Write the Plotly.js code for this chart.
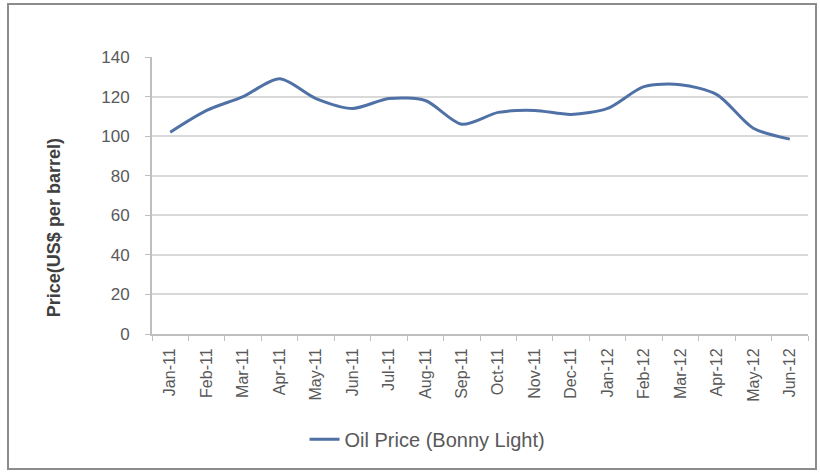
<!DOCTYPE html>
<html>
<head>
<meta charset="utf-8">
<script src="https://cdn.plot.ly/plotly-3.0.1.min.js"></script>
<style>
html,body{margin:0;padding:0;background:#fff;}
#wrap{position:relative;width:820px;height:475px;}
#chart{width:820px;height:475px;}
#frame{position:absolute;left:7px;top:3px;width:806px;height:463px;border:2px solid #8c8c8c;pointer-events:none;}
</style>
</head>
<body>
<div id="wrap">
<div id="chart"></div>
<div id="frame"></div>
</div>
<script>
const months = ["Jan-11","Feb-11","Mar-11","Apr-11","May-11","Jun-11","Jul-11","Aug-11","Sep-11","Oct-11","Nov-11","Dec-11","Jan-12","Feb-12","Mar-12","Apr-12","May-12","Jun-12"];
const oilPrice = [102, 113, 120, 129, 119, 114, 119, 118, 106, 112, 113, 111, 114, 125, 126, 121, 104, 98.5];
const seriesName = "Oil Price (Bonny Light)";
const yTitle = "Price(US$ per barrel)";
const yTicks = [0, 20, 40, 60, 80, 100, 120, 140];

const trace = {
  x: months,
  y: oilPrice,
  type: "scatter",
  mode: "lines",
  name: seriesName,
  line: {color: "#4f71a6", width: 3, shape: "spline", smoothing: 0.8}
};

const layout = {
  width: 820, height: 475,
  margin: {l: 152, r: 12, t: 57, b: 141},
  paper_bgcolor: "#fff",
  plot_bgcolor: "#fff",
  font: {family: "Liberation Sans, Arial, sans-serif", color: "#595959", size: 12},
  showlegend: true,
  legend: {orientation: "h", x: 0.42, xanchor: "center", y: -0.38, yanchor: "middle", font: {size: 20, color: "#595959"}},
  xaxis: {
    type: "category",
    range: [-0.5, 17.5],
    tickangle: -90,
    showgrid: false,
    showline: true, linecolor: "#bfbfbf", linewidth: 2,
    ticks: "outside", tickson: "boundaries", ticklen: 5, tickcolor: "#bfbfbf",
    ticklabelstandoff: 6,
    tickfont: {size: 16, color: "#595959"},
    zeroline: false
  },
  yaxis: {
    range: [0, 140],
    tickvals: yTicks,
    showgrid: true, gridcolor: "#d9d9d9", gridwidth: 2,
    showline: true, linecolor: "#bfbfbf", linewidth: 2,
    ticks: "outside", ticklen: 5, tickcolor: "#bfbfbf",
    ticklabelstandoff: 12,
    tickfont: {size: 17, color: "#595959"},
    zeroline: false
  },
  annotations: [{
    text: "<b>" + yTitle + "</b>",
    xref: "paper", yref: "paper",
    x: -0.149, y: 0.383,
    xanchor: "center", yanchor: "middle",
    textangle: -90, showarrow: false,
    font: {size: 18, color: "#404040"}
  }]
};

Plotly.newPlot("chart", [trace], layout, {displayModeBar: false, staticPlot: true});
</script>
</body>
</html>
